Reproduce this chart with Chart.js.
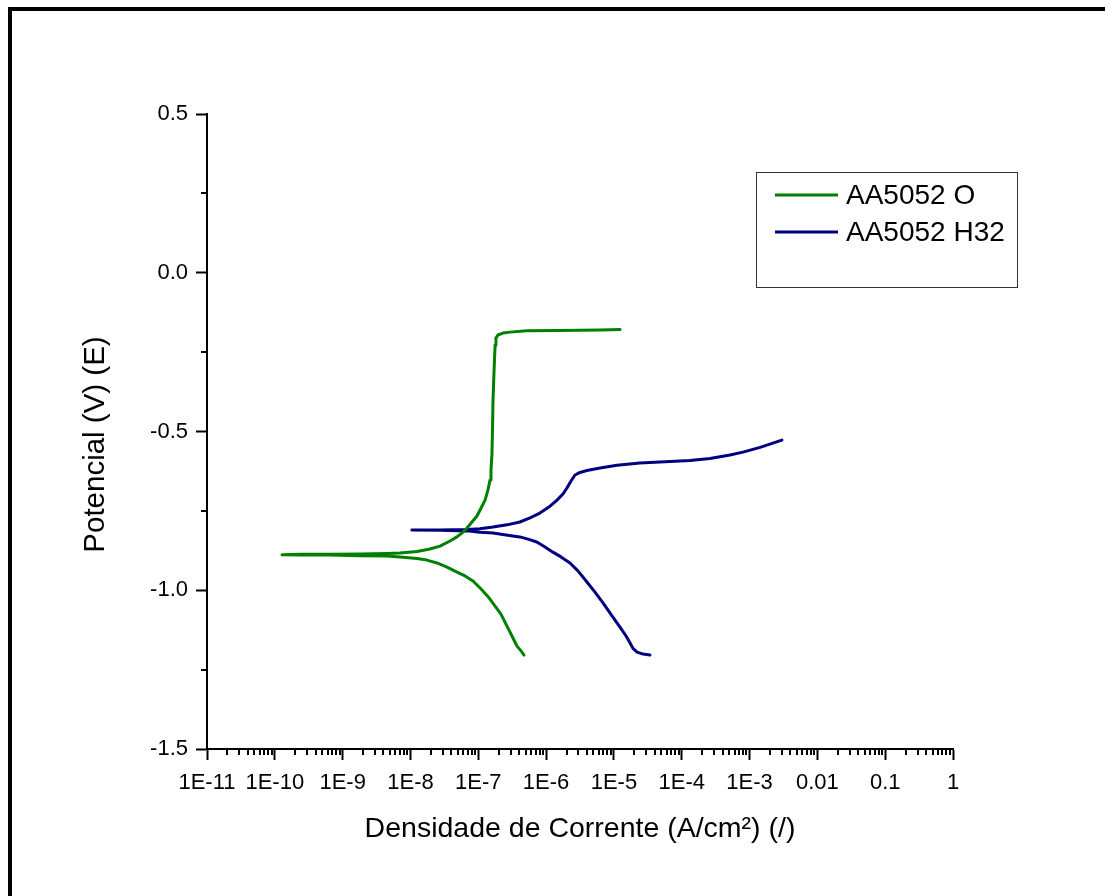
<!DOCTYPE html>
<html>
<head>
<meta charset="utf-8">
<script src="https://cdn.jsdelivr.net/npm/chart.js@4/dist/chart.umd.min.js"></script>
<style>
  html, body { margin: 0; padding: 0; background: #fff; overflow: hidden; }
  #wrap { position: relative; width: 1105px; height: 896px; }
  #frame { position: absolute; left: 8px; top: 7px; width: 3000px; height: 3000px;
           border-top: 4px solid #000; border-left: 4px solid #000; pointer-events: none; }
  canvas { position: absolute; left: 0; top: 0; }
</style>
</head>
<body>
<div id="wrap">
  <canvas id="c" width="1105" height="896"></canvas>
  <div id="frame"></div>
</div>
<script>
// ---- Data ----
const seriesLabels = ['AA5052 O', 'AA5052 H32'];

// AA5052 O : cathodic branch (from -1.2 V up to Ecorr), then anodic branch
const oCurrent = [4.72e-7, 4.27e-7, 3.72e-7, 3.14e-7, 2.65e-7, 2.16e-7, 1.77e-7, 1.44e-7, 1.10e-7, 8.36e-8,
                  6.37e-8, 4.85e-8, 3.46e-8, 2.46e-8, 1.75e-8, 1.25e-8, 7.0e-9, 4.5e-9, 1.8e-9, 6.5e-10,
                  2.35e-10, 1.28e-10,
                  2.35e-10, 6.5e-10, 1.8e-9, 4.5e-9, 7.0e-9, 1.25e-8, 1.94e-8, 2.73e-8, 3.83e-8, 4.85e-8,
                  5.96e-8, 6.82e-8, 8.07e-8, 9.57e-8, 1.10e-7, 1.26e-7, 1.39e-7, 1.49e-7, 1.54e-7, 1.59e-7,
                  1.62e-7, 1.65e-7, 1.71e-7, 1.77e-7, 1.82e-7, 1.95e-7, 2.31e-7, 2.94e-7, 5.2e-7, 1.60e-6,
                  6.24e-6, 1.23e-5];
const oPotential = [-1.204, -1.191, -1.176, -1.144, -1.113, -1.075, -1.050, -1.024, -0.996, -0.971,
                    -0.955, -0.943, -0.927, -0.914, -0.905, -0.900, -0.895, -0.892, -0.891, -0.889,
                    -0.889, -0.888,
                    -0.887, -0.887, -0.886, -0.884, -0.883, -0.878, -0.870, -0.861, -0.845, -0.832,
                    -0.817, -0.804, -0.785, -0.766, -0.741, -0.716, -0.684, -0.653, -0.621, -0.574,
                    -0.495, -0.401, -0.306, -0.228, -0.206, -0.196, -0.190, -0.187, -0.183, -0.182,
                    -0.180, -0.179];

// AA5052 H32 : cathodic branch, then anodic branch
const hCurrent = [3.40e-5, 2.69e-5, 2.19e-5, 1.91e-5, 1.73e-5, 1.51e-5, 1.23e-5, 9.38e-6, 6.9e-6, 5.26e-6,
                  4.0e-6, 2.95e-6, 2.25e-6, 1.66e-6, 1.26e-6, 9.64e-7, 7.3e-7, 5.41e-7, 4.1e-7, 2.56e-7,
                  1.65e-7, 1.06e-7, 6.82e-8, 2.73e-8, 1.05e-8,
                  2.73e-8, 6.82e-8, 1.06e-7, 1.65e-7, 2.65e-7, 4.1e-7, 5.80e-7, 8.1e-7, 1.10e-6, 1.45e-6,
                  1.77e-6, 2.03e-6, 2.33e-6, 2.67e-6, 3.16e-6, 4.0e-6, 6.24e-6, 1.11e-5, 2.42e-5, 4.77e-5,
                  1.32e-4, 2.61e-4, 5.15e-4, 8.0e-4, 1.43e-3, 3.0e-3];
const hPotential = [-1.204, -1.201, -1.195, -1.183, -1.166, -1.144, -1.116, -1.081, -1.040, -1.006,
                    -0.974, -0.939, -0.914, -0.895, -0.880, -0.864, -0.848, -0.839, -0.832, -0.826,
                    -0.820, -0.817, -0.813, -0.811, -0.810,
                    -0.810, -0.809, -0.806, -0.801, -0.794, -0.785, -0.772, -0.757, -0.738, -0.716,
                    -0.697, -0.678, -0.656, -0.637, -0.629, -0.623, -0.615, -0.606, -0.599, -0.596,
                    -0.591, -0.585, -0.574, -0.565, -0.550, -0.527];

const xTickValues = [1e-11, 1e-10, 1e-9, 1e-8, 1e-7, 1e-6, 1e-5, 1e-4, 1e-3, 1e-2, 1e-1, 1];
const xTickLabels = ['1E-11', '1E-10', '1E-9', '1E-8', '1E-7', '1E-6', '1E-5', '1E-4', '1E-3', '0.01', '0.1', '1'];
const yTickValues = [-1.5, -1.0, -0.5, 0.0, 0.5];
const yTickLabels = ['-1.5', '-1.0', '-0.5', '0.0', '0.5'];
const yMinorValues = [-1.25, -0.75, -0.25, 0.25];

const xTitle = 'Densidade de Corrente (A/cm²) (/)';
const yTitle = 'Potencial (V) (E)';

// ---- Chart ----
const FONT = 'Arial, "Liberation Sans", Helvetica, sans-serif';
const colors = ['#008000', '#000080'];

function pts(xs, ys) { return xs.map((x, i) => ({ x: x, y: ys[i] })); }

const minorTicks = {
  id: 'minorTicks',
  afterDraw(chart) {
    const ctx = chart.ctx;
    const xs = chart.scales.x, ys = chart.scales.y;
    ctx.save();
    ctx.strokeStyle = '#000';
    ctx.lineWidth = 2;
    ctx.beginPath();
    yMinorValues.forEach(v => {
      const py = Math.round(ys.getPixelForValue(v));
      ctx.moveTo(xs.left, py); ctx.lineTo(xs.left - 6, py);
    });
    for (let i = 0; i < xTickValues.length - 1; i++) {
      for (let k = 2; k <= 9; k++) {
        const px = Math.round(xs.getPixelForValue(xTickValues[i] * k));
        ctx.moveTo(px, ys.bottom); ctx.lineTo(px, ys.bottom + 6);
      }
    }
    ctx.stroke();
    ctx.restore();
  }
};

const yAxisTitle = {
  id: 'yAxisTitle',
  afterDraw(chart) {
    const ctx = chart.ctx;
    const a = chart.chartArea;
    ctx.save();
    ctx.translate(96, (a.top + a.bottom) / 2 + 13);
    ctx.rotate(-Math.PI / 2);
    ctx.font = '29.5px ' + FONT;
    ctx.fillStyle = '#000';
    ctx.textAlign = 'center';
    ctx.textBaseline = 'middle';
    ctx.fillText(yTitle, 0, 0);
    ctx.restore();
  }
};

const boxLegend = {
  id: 'boxLegend',
  afterDraw(chart) {
    const ctx = chart.ctx;
    const L = 756, T = 172, R = 1017, B = 287;
    ctx.save();
    ctx.strokeStyle = '#333';
    ctx.lineWidth = 1;
    ctx.strokeRect(L + 0.5, T + 0.5, R - L, B - T);
    ctx.font = '28px ' + FONT;
    ctx.textBaseline = 'middle';
    ctx.fillStyle = '#000';
    chart.data.datasets.forEach((ds, i) => {
      const y = 195 + i * 37;
      ctx.strokeStyle = ds.borderColor;
      ctx.lineWidth = 3;
      ctx.beginPath();
      ctx.moveTo(775, y); ctx.lineTo(838, y);
      ctx.stroke();
      ctx.fillText(ds.label, 846, y + 1);
    });
    ctx.restore();
  }
};

new Chart(document.getElementById('c'), {
  type: 'scatter',
  data: {
    datasets: [
      { label: seriesLabels[0], data: pts(oCurrent, oPotential), showLine: true,
        borderColor: colors[0], backgroundColor: colors[0], borderWidth: 3, pointRadius: 0, tension: 0,
        borderJoinStyle: 'round', borderCapStyle: 'round' },
      { label: seriesLabels[1], data: pts(hCurrent, hPotential), showLine: true,
        borderColor: colors[1], backgroundColor: colors[1], borderWidth: 3, pointRadius: 0, tension: 0,
        borderJoinStyle: 'round', borderCapStyle: 'round' }
    ]
  },
  options: {
    responsive: false,
    animation: false,
    devicePixelRatio: 1,
    layout: { padding: { top: 114, right: 152, left: 0, bottom: 0 } },
    plugins: { legend: { display: false }, tooltip: { enabled: false } },
    scales: {
      x: {
        type: 'logarithmic',
        min: 1e-11, max: 1,
        afterBuildTicks(scale) { scale.ticks = xTickValues.map(v => ({ value: v, major: true })); },
        afterFit(scale) { scale.height = 896 - 749; },
        ticks: {
          autoSkip: false, maxRotation: 0, minRotation: 0, padding: 10,
          color: '#000', font: { family: FONT, size: 22 },
          callback(value) {
            const i = xTickValues.findIndex(v => Math.abs(Math.log10(v) - Math.log10(value)) < 1e-6);
            return i >= 0 ? xTickLabels[i] : '';
          }
        },
        grid: { drawOnChartArea: false, drawTicks: true, tickLength: 11, tickWidth: 2, tickColor: '#000' },
        border: { display: true, color: '#000', width: 2 },
        title: { display: true, text: xTitle, color: '#000', font: { family: FONT, size: 28.5 },
                 padding: { top: 0, bottom: 50 } }
      },
      y: {
        type: 'linear',
        min: -1.5, max: 0.5,
        afterBuildTicks(scale) { scale.ticks = yTickValues.map(v => ({ value: v })); },
        afterFit(scale) { scale.width = 207; },
        ticks: {
          padding: 8, color: '#000', font: { family: FONT, size: 22 },
          callback(value) {
            const i = yTickValues.findIndex(v => Math.abs(v - value) < 1e-9);
            return i >= 0 ? yTickLabels[i] : '';
          }
        },
        grid: { drawOnChartArea: false, drawTicks: true, tickLength: 11, tickWidth: 2, tickColor: '#000' },
        border: { display: true, color: '#000', width: 2 },
        title: { display: false, text: yTitle }
      }
    }
  },
  plugins: [minorTicks, yAxisTitle, boxLegend]
});
</script>
</body>
</html>
